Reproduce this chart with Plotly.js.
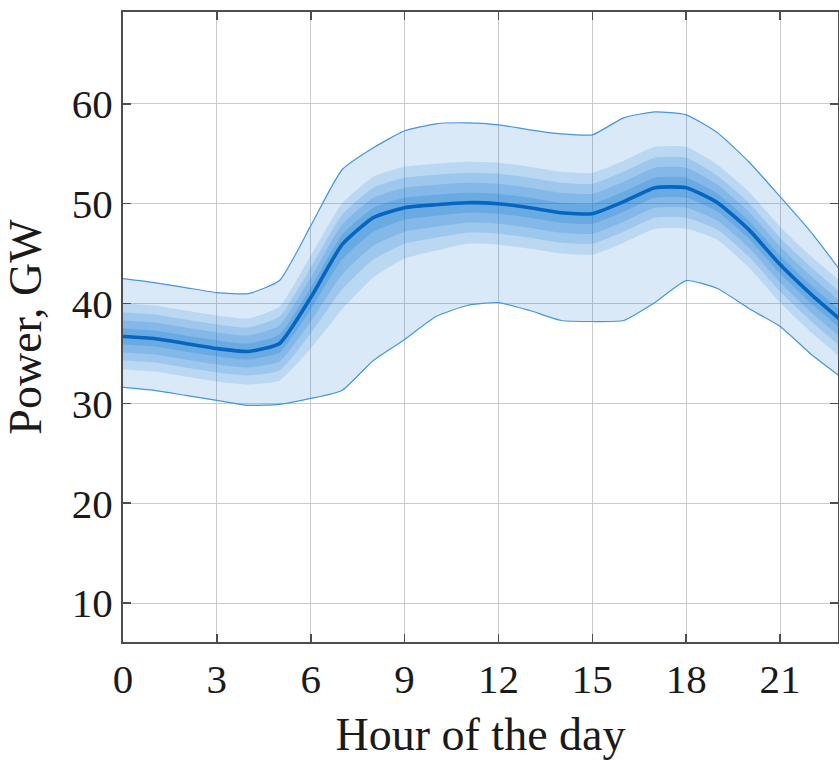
<!DOCTYPE html>
<html>
<head>
<meta charset="utf-8">
<script src="https://cdn.plot.ly/plotly-3.0.1.min.js"></script>
<style>html,body{margin:0;padding:0;background:#fff;}#chart{width:839px;height:760px;}</style>
</head>
<body>
<div id="chart"></div>
<script>
// Hour of the day
const hours = [0,1,2,3,4,5,6,7,8,9,10,11,12,13,14,15,16,17,18,19,20,21,22,23];
// Median (GW)
const median = [36.7,36.5,36.0,35.5,35.2,36.0,40.6,45.9,48.6,49.6,49.9,50.1,50.0,49.6,49.1,49.0,50.2,51.6,51.6,50.1,47.4,43.9,40.9,38.2];
// Outer bounds
const upperBound = [42.5,42.1,41.6,41.1,41.0,42.3,47.8,53.4,55.6,57.3,58.0,58.1,57.9,57.4,57.0,56.9,58.6,59.2,58.9,57.1,54.2,50.7,47.1,43.0];
const lowerBound = [31.6,31.3,30.8,30.3,29.8,29.9,30.5,31.3,34.3,36.4,38.7,39.8,40.1,39.3,38.3,38.2,38.3,40.1,42.3,41.5,39.5,37.7,34.9,32.5];
// Inner quantile bands (4 = widest, 1 = narrowest)
const band4Upper = [40.0,39.8,39.3,38.8,38.5,39.7,44.8,50.0,52.7,53.7,54.0,54.2,54.1,53.7,53.2,53.1,54.3,55.7,55.7,53.9,51.2,47.7,44.7,42.0];
const band4Lower = [33.4,33.2,32.7,32.2,31.9,32.3,35.5,39.4,42.6,44.5,45.3,46.0,45.9,45.5,45.0,44.9,46.1,47.5,47.5,46.4,43.6,40.1,37.1,34.4];
const band3Upper = [39.1,38.9,38.4,37.9,37.6,38.7,43.6,48.9,51.6,52.6,52.9,53.1,53.0,52.6,52.1,52.0,53.2,54.6,54.6,52.8,50.1,46.6,43.6,40.9];
const band3Lower = [34.3,34.1,33.6,33.1,32.8,33.3,37.0,41.4,44.4,46.0,46.6,47.1,47.0,46.6,46.1,46.0,47.2,48.6,48.6,47.4,44.7,41.2,38.2,35.5];
const band2Upper = [38.3,38.1,37.6,37.1,36.8,37.8,42.6,47.9,50.6,51.6,51.9,52.1,52.0,51.6,51.1,51.0,52.2,53.6,53.6,51.9,49.2,45.7,42.7,40.0];
const band2Lower = [35.1,34.9,34.4,33.9,33.6,34.2,38.2,42.9,45.8,47.2,47.7,48.1,48.0,47.6,47.1,47.0,48.2,49.6,49.6,48.3,45.6,42.1,39.1,36.4];
const band1Upper = [37.5,37.3,36.8,36.3,36.0,36.9,41.6,46.9,49.6,50.6,50.9,51.1,51.0,50.6,50.1,50.0,51.2,52.6,52.6,51.0,48.3,44.8,41.8,39.1];
const band1Lower = [35.9,35.7,35.2,34.7,34.4,35.1,39.4,44.4,47.2,48.4,48.8,49.1,49.0,48.6,48.1,48.0,49.2,50.6,50.6,49.2,46.5,43.0,40.0,37.3];

const xTicks = [0,3,6,9,12,15,18,21];
const yTicks = [10,20,30,40,50,60];

const shape = {shape:'spline', smoothing:0.5};
function pair(lo, hi, fillcolor) {
  return [
    {x:hours, y:lo, mode:'lines', line:Object.assign({width:0, color:'rgba(0,0,0,0)'}, shape), hoverinfo:'skip', showlegend:false},
    {x:hours, y:hi, mode:'lines', fill:'tonexty', fillcolor:fillcolor, line:Object.assign({width:0, color:'rgba(0,0,0,0)'}, shape), hoverinfo:'skip', showlegend:false}
  ];
}
const traces = [].concat(
  pair(lowerBound, upperBound, 'rgba(0,110,205,0.15)'),
  pair(band4Lower, band4Upper, 'rgba(0,110,205,0.14)'),
  pair(band3Lower, band3Upper, 'rgba(0,110,205,0.15)'),
  pair(band2Lower, band2Upper, 'rgba(0,110,205,0.17)'),
  pair(band1Lower, band1Upper, 'rgba(0,110,205,0.19)'),
  [
    {x:hours, y:upperBound, mode:'lines', line:Object.assign({width:1.2, color:'#4596de'}, shape), showlegend:false},
    {x:hours, y:lowerBound, mode:'lines', line:Object.assign({width:1.2, color:'#4596de'}, shape), showlegend:false},
    {x:hours, y:median, mode:'lines', line:Object.assign({width:3.6, color:'#0565c0'}, shape), showlegend:false}
  ]
);

const font = {family:'"Liberation Serif", "Times New Roman", serif', color:'#1a1a1a'};
const layout = {
  width:839, height:760,
  margin:{l:123, r:1, t:12, b:118, pad:0},
  paper_bgcolor:'#fff', plot_bgcolor:'#fff',
  showlegend:false,
  font:Object.assign({size:41}, font),
  xaxis:{
    range:[0,22.85], tickvals:xTicks, ticktext:xTicks.map(String),
    showgrid:true, gridcolor:'#cacaca', gridwidth:1,
    showline:true, linecolor:'#4d4d4d', linewidth:2, mirror:'ticks',
    ticks:'inside', ticklen:8, tickwidth:1.5, tickcolor:'#4d4d4d',
    tickfont:Object.assign({size:41}, font),
    zeroline:false,
    title:{text:'Hour of the day', font:Object.assign({size:46}, font), standoff:17}
  },
  yaxis:{
    range:[6.1,69.2], tickvals:yTicks, ticktext:yTicks.map(String),
    showgrid:true, gridcolor:'#cacaca', gridwidth:1,
    showline:true, linecolor:'#4d4d4d', linewidth:2, mirror:'ticks',
    ticks:'inside', ticklen:8, tickwidth:1.5, tickcolor:'#4d4d4d',
    tickfont:Object.assign({size:41}, font),
    zeroline:false,
    title:{text:'Power, GW', font:Object.assign({size:46}, font), standoff:22}
  }
};
Plotly.newPlot('chart', traces, layout, {staticPlot:true, displayModeBar:false});
</script>
</body>
</html>
